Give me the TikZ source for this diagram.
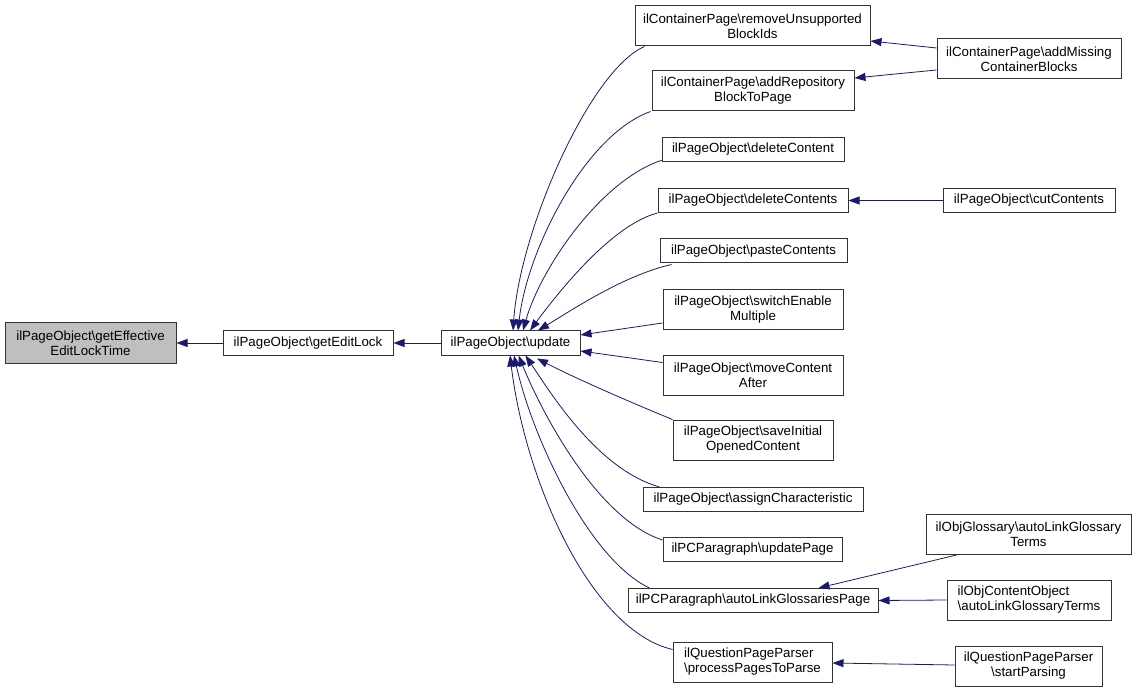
\documentclass[tikz,border=0pt]{standalone}
\usepackage{fontspec}
\setmainfont{Liberation Sans}
\usetikzlibrary{arrows.meta,calc}
\definecolor{edgeblue}{HTML}{191970}
\definecolor{boxgray}{HTML}{BFBFBF}
\newcommand{\bs}{\textbackslash{}}
\begin{document}
\begin{tikzpicture}[x=1pt,y=-1pt,
  box/.style={draw=black!80, line width=1pt, fill=white, inner sep=0pt,
    font=\fontsize{13.3}{15}\selectfont, align=center},
  one/.style={minimum height=24pt},
  two/.style={minimum height=40pt},
  edge/.style={draw=edgeblue, line width=0.8pt, -{Triangle[length=11pt,width=8pt]}}]
\useasboundingbox (0,0) rectangle (1137,692);

% left chain
\node[box,two,fill=boxgray,minimum width=171pt] (eff) at (90.5,343) {ilPageObject\bs getEffective\\EditLockTime};
\node[box,one,minimum width=170pt] (gel) at (308,343) {ilPageObject\bs getEditLock};
\node[box,one,minimum width=139pt] (upd) at (510.5,343) {ilPageObject\bs update};

% middle column
\node[box,two,minimum width=235pt] (rub) at (752.5,26) {ilContainerPage\bs removeUnsupported\\BlockIds};
\node[box,two,minimum width=202pt] (arb) at (753,91) {ilContainerPage\bs addRepository\\BlockToPage};
\node[box,one,minimum width=182pt] (dcn) at (753,149.5) {ilPageObject\bs deleteContent};
\node[box,one,minimum width=190pt] (dcs) at (753,200.5) {ilPageObject\bs deleteContents};
\node[box,one,minimum width=187pt] (pst) at (753.5,251) {ilPageObject\bs pasteContents};
\node[box,two,minimum width=180pt] (sem) at (753,309.5) {ilPageObject\bs switchEnable\\Multiple};
\node[box,two,minimum width=180pt] (mca) at (753,375) {ilPageObject\bs moveContent\\After};
\node[box,two,minimum width=160pt] (sio) at (753,440) {ilPageObject\bs saveInitial\\OpenedContent};
\node[box,one,minimum width=220pt] (ach) at (753,499.5) {ilPageObject\bs assignCharacteristic};
\node[box,one,minimum width=179pt] (upg) at (752.5,549.5) {ilPCParagraph\bs updatePage};
\node[box,one,minimum width=250pt] (alg) at (753,600.5) {ilPCParagraph\bs autoLinkGlossariesPage};
\node[box,two,minimum width=159pt,align=left] (ppp) at (752.5,662) {ilQuestionPageParser\\\bs processPagesToParse};

% right column
\node[box,two,minimum width=184pt] (amc) at (1029,59) {ilContainerPage\bs addMissing\\ContainerBlocks};
\node[box,one,minimum width=172pt] (cut) at (1029,200.5) {ilPageObject\bs cutContents};
\node[box,two,minimum width=205pt] (olg) at (1028.5,534.5) {ilObjGlossary\bs autoLinkGlossary\\Terms};
\node[box,two,minimum width=164pt,align=left] (oco) at (1029,600) {ilObjContentObject\\\bs autoLinkGlossaryTerms};
\node[box,two,minimum width=147pt] (stp) at (1028.5,666) {ilQuestionPageParser\\\bs startParsing};

% straight edges
\draw[edge] (gel.west) -- (eff.east);
\draw[edge] (upd.west) -- (gel.east);
\draw[edge] ($(amc.west)+(0,-11)$) -- ($(rub.east)+(0,15)$);
\draw[edge] ($(amc.west)+(0,11)$) -- ($(arb.east)+(0,-13)$);
\draw[edge] (cut.west) -- (dcs.east);
\draw[edge] ($(olg.south west)+(31,0)$) -- ($(alg.north east)+(-60,0)$);
\draw[edge] (oco.west) -- (alg.east);
\draw[edge] ($(stp.west)+(0,-1)$) -- ($(ppp.east)+(0,1)$);

% edges into update (top)
\draw[edge] ($(rub.south west)+(10,0)$) .. controls (590,70) and (520,230) .. ($(upd.north)+(2.5,0)$);
\draw[edge] ($(arb.south west)+(-1,0)$) .. controls (585,135) and (527,250) .. ($(upd.north)+(7.5,0)$);
\draw[edge] ($(dcn.south west)+(1,-2)$) .. controls (600,180) and (540,270) .. ($(upd.north)+(12.5,0)$);
\draw[edge] (dcs.south west) .. controls (612,225) and (560,290) .. ($(upd.north)+(19.5,0)$);
\draw[edge] ($(pst.south west)+(12,1)$) .. controls (625,275) and (575,308) .. ($(upd.north)+(27.5,0)$);
\draw[edge] ($(sem.south west)+(0,-7)$) -- ($(upd.east)+(0,-8)$);
% edges into update (bottom)
\draw[edge] ($(mca.north west)+(0,8)$) -- ($(upd.east)+(0,8)$);
\draw[edge] (sio.north west) .. controls (625,400) and (575,378) .. ($(upd.south)+(26.5,3)$);
\draw[edge] ($(ach.north west)+(17,0)$) .. controls (600,470) and (555,400) .. ($(upd.south)+(15,0)$);
\draw[edge] ($(upg.north west)+(0,3)$) .. controls (600,520) and (545,420) .. ($(upd.south)+(8,0)$);
\draw[edge] ($(alg.north west)+(22,0)$) .. controls (590,560) and (533,440) .. ($(upd.south)+(3.5,0)$);
\draw[edge] ($(ppp.north west)+(0,8)$) .. controls (590,630) and (525,480) .. ($(upd.south)+(-0.5,0)$);
\end{tikzpicture}
\end{document}
